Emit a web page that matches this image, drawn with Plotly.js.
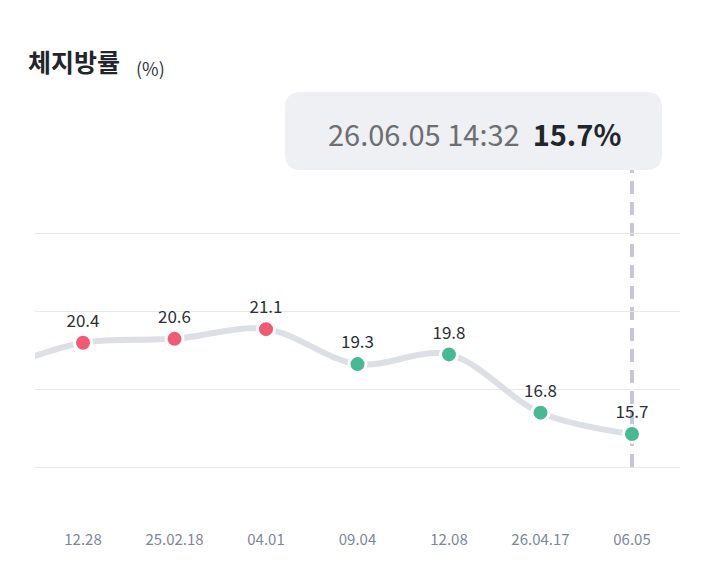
<!DOCTYPE html>
<html>
<head>
<meta charset="utf-8">
<script src="https://cdn.plot.ly/plotly-3.0.1.min.js"></script>
<style>
  html, body { margin: 0; padding: 0; background: #ffffff; }
  #chart { width: 722px; height: 564px; }
</style>
</head>
<body>
<div id="chart"></div>
<script>
// Body-fat readings (%) with their measurement dates
const dateLabels = ['12.28', '25.02.18', '04.01', '09.04', '12.08', '26.04.17', '06.05'];
const bodyFat = [20.4, 20.6, 21.1, 19.3, 19.8, 16.8, 15.7];
// reading just before the visible window (line runs in from the left edge)
const earlierReading = 18.9;
const selectedStamp = '26.06.05 14:32';
const selectedValue = 15.7;
const yTicks = [14, 18, 22, 26];

const HIGH = '#F05A72', OK = '#47BA94';
const xs = [-1].concat(dateLabels.map((_, i) => i));
const ys = [earlierReading].concat(bodyFat);
const labels = [''].concat(bodyFat.map(v => v.toFixed(1)));
const colors = ys.map(v => v >= 20 ? HIGH : OK);

const W = 722, H = 564;
const M = {l: 35, r: 42, t: 232, b: 95};
const pw = W - M.l - M.r, ph = H - M.t - M.b;
// pixel -> paper helpers for layout decorations
const px = x => (x - M.l) / pw;
const py = y => (H - M.b - y) / ph;

function roundRect(x0, y0, x1, y1, r) {
  const p = (x, y) => px(x) + ',' + py(y);
  return 'M' + p(x0 + r, y0) + ' L' + p(x1 - r, y0) + ' Q' + p(x1, y0) + ' ' + p(x1, y0 + r) +
         ' L' + p(x1, y1 - r) + ' Q' + p(x1, y1) + ' ' + p(x1 - r, y1) +
         ' L' + p(x0 + r, y1) + ' Q' + p(x0, y1) + ' ' + p(x0, y1 - r) +
         ' L' + p(x0, y0 + r) + ' Q' + p(x0, y0) + ' ' + p(x0 + r, y0) + ' Z';
}

const FONT = '"Noto Sans CJK KR", "Noto Sans", sans-serif';

const trace = {
  x: xs, y: ys, type: 'scatter', mode: 'lines+markers+text',
  line: {shape: 'spline', smoothing: 1, color: '#DCDFE4', width: 6},
  marker: {size: 17, color: colors, line: {color: '#ffffff', width: 3}},
  text: labels, textposition: 'top center',
  textfont: {family: FONT, size: 17, color: '#2b2f36'},
  hoverinfo: 'none', cliponaxis: true
};

const layout = {
  width: W, height: H, margin: M,
  paper_bgcolor: '#ffffff', plot_bgcolor: '#ffffff',
  showlegend: false,
  xaxis: {
    range: [-0.525, dateLabels.length - 1 + 0.525],
    tickvals: dateLabels.map((_, i) => i), ticktext: dateLabels,
    showgrid: false, zeroline: false, showline: false,
    ticks: 'outside', ticklen: 57, tickcolor: 'rgba(0,0,0,0)',
    tickfont: {family: FONT, size: 15, color: '#7D869C'}
  },
  yaxis: {
    range: [13.9, 26.1], tickvals: yTicks, showticklabels: false,
    showgrid: true, gridcolor: '#E8E9EE', gridwidth: 1,
    zeroline: false, showline: false
  },
  shapes: [
    {type: 'line', xref: 'x', yref: 'paper', x0: dateLabels.length - 1, x1: dateLabels.length - 1,
     y0: py(467), y1: py(170), layer: 'below',
     line: {color: '#C6C7D0', width: 4, dash: '13px,8px'}},
    {type: 'path', xref: 'paper', yref: 'paper', path: roundRect(285, 92, 662, 170, 16),
     fillcolor: '#EFF0F4', line: {width: 0}, layer: 'above'}
  ],
  annotations: [
    {xref: 'paper', yref: 'paper', x: px(26), y: py(61), xanchor: 'left', yanchor: 'middle',
     showarrow: false, text: '<b>체지방률</b>',
     font: {family: FONT, size: 25, color: '#22262c'}},
    {xref: 'paper', yref: 'paper', x: px(134), y: py(68), xanchor: 'left', yanchor: 'middle',
     showarrow: false, text: '(%)',
     font: {family: FONT, size: 18, color: '#333840'}},
    {xref: 'paper', yref: 'paper', x: px(474), y: py(133), xanchor: 'center', yanchor: 'middle',
     showarrow: false,
     text: '<span style="color:#6E6E70">' + selectedStamp + '</span>  <b>' + selectedValue.toFixed(1) + '%</b>',
     font: {family: FONT, size: 29, color: '#22262c'}}
  ]
};

Plotly.newPlot('chart', [trace], layout, {displayModeBar: false, staticPlot: true});
</script>
</body>
</html>
